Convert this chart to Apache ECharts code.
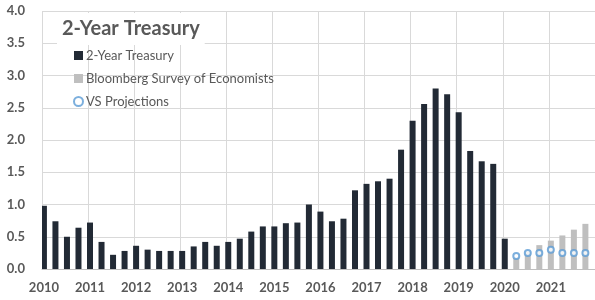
<!DOCTYPE html>
<html>
<head>
<meta charset="utf-8">
<script src="https://cdn.jsdelivr.net/npm/echarts@6/dist/echarts.min.js"></script>
<style>
  html, body { margin: 0; padding: 0; background: #fff; }
  #chart { width: 595px; height: 300px; }
</style>
</head>
<body>
<div id="chart"></div>
<script>
// year ticks on the x axis
const years = [2010, 2011, 2012, 2013, 2014, 2015, 2016, 2017, 2018, 2019, 2020, 2021]

// 2-Year Treasury, quarterly from 2010 Q1 to 2020 Q1
const treasury = [
  0.98, 0.74, 0.50, 0.64,
  0.72, 0.42, 0.22, 0.28,
  0.36, 0.30, 0.28, 0.28,
  0.28, 0.35, 0.42, 0.36,
  0.42, 0.47, 0.58, 0.66,
  0.66, 0.71, 0.72, 1.00,
  0.89, 0.74, 0.78, 1.22,
  1.32, 1.36, 1.40, 1.85,
  2.30, 2.56, 2.80, 2.71,
  2.43, 1.83, 1.67, 1.63,
  0.47
]

// forecasts, quarterly from 2020 Q2 to 2021 Q4
const bloomberg = [0.17, 0.27, 0.37, 0.44, 0.52, 0.61, 0.70]
const vsProjections = [0.20, 0.25, 0.25, 0.30, 0.25, 0.25, 0.25]
const forecastStart = treasury.length

const yTicks = { min: 0, max: 4, interval: 0.5 }

// months as categories so the bars sit like on Excel's date axis
const months = []
years.forEach(y => {
  for (let m = 0; m < 12; m++) months.push(y + '-' + (m + 1))
})

function toMonthly(values, startQuarter) {
  const out = months.map(() => null)
  values.forEach((v, i) => { out[(startQuarter + i) * 3] = v })
  return out
}

const labelColor = '#595959'
const gridColor = '#d9d9d9'
const font = 'Lato, "Open Sans", sans-serif'

const chart = echarts.init(document.getElementById('chart'))
chart.setOption({
  animation: false,
  textStyle: { fontFamily: font },
  title: {
    text: '2-Year Treasury',
    left: 57,
    top: 13,
    padding: [6, 5, 6, 5],
    backgroundColor: '#fff',
    textStyle: { fontSize: 20, fontWeight: 'bold', color: labelColor, fontFamily: font }
  },
  legend: {
    orient: 'vertical',
    left: 73,
    top: 49,
    padding: 0,
    itemWidth: 9,
    itemHeight: 9,
    itemGap: 10,
    textStyle: { fontSize: 13, color: labelColor, fontFamily: font, padding: [0, 0, 0, -2] },
    data: [
      { name: '2-Year Treasury', icon: 'rect' },
      { name: 'Bloomberg Survey of Economists', icon: 'rect' },
      { name: 'VS Projections', icon: 'circle' }
    ]
  },
  grid: { left: 42, top: 11, width: 560, height: 258, containLabel: false },
  xAxis: {
    type: 'category',
    data: months,
    boundaryGap: true,
    axisLine: { lineStyle: { color: '#bfbfbf' } },
    axisTick: { show: false },
    axisLabel: {
      interval: 11,
      margin: 12,
      color: labelColor,
      fontSize: 13,
      fontWeight: 'bold',
      formatter: v => v.split('-')[0]
    },
    splitLine: { show: true, interval: 11, lineStyle: { color: gridColor } }
  },
  yAxis: {
    type: 'value',
    min: yTicks.min,
    max: yTicks.max,
    interval: yTicks.interval,
    axisLine: { show: false },
    axisTick: { show: false },
    axisLabel: {
      margin: 17,
      color: labelColor,
      fontSize: 13,
      fontWeight: 'bold',
      formatter: v => v.toFixed(1)
    },
    splitLine: { lineStyle: { color: gridColor } }
  },
  series: [
    {
      name: '2-Year Treasury',
      type: 'bar',
      data: toMonthly(treasury, 0),
      barWidth: 6,
      barGap: '-100%',
      itemStyle: { color: '#222a35' }
    },
    {
      name: 'Bloomberg Survey of Economists',
      type: 'bar',
      data: toMonthly(bloomberg, forecastStart),
      barWidth: 6,
      barGap: '-100%',
      itemStyle: { color: '#bfbfbf' }
    },
    {
      name: 'VS Projections',
      type: 'scatter',
      data: toMonthly(vsProjections, forecastStart),
      symbol: 'circle',
      symbolSize: 6,
      itemStyle: { color: '#fff', borderColor: '#5b9bd5', borderWidth: 2 },
      z: 5
    }
  ]
})
</script>
</body>
</html>
